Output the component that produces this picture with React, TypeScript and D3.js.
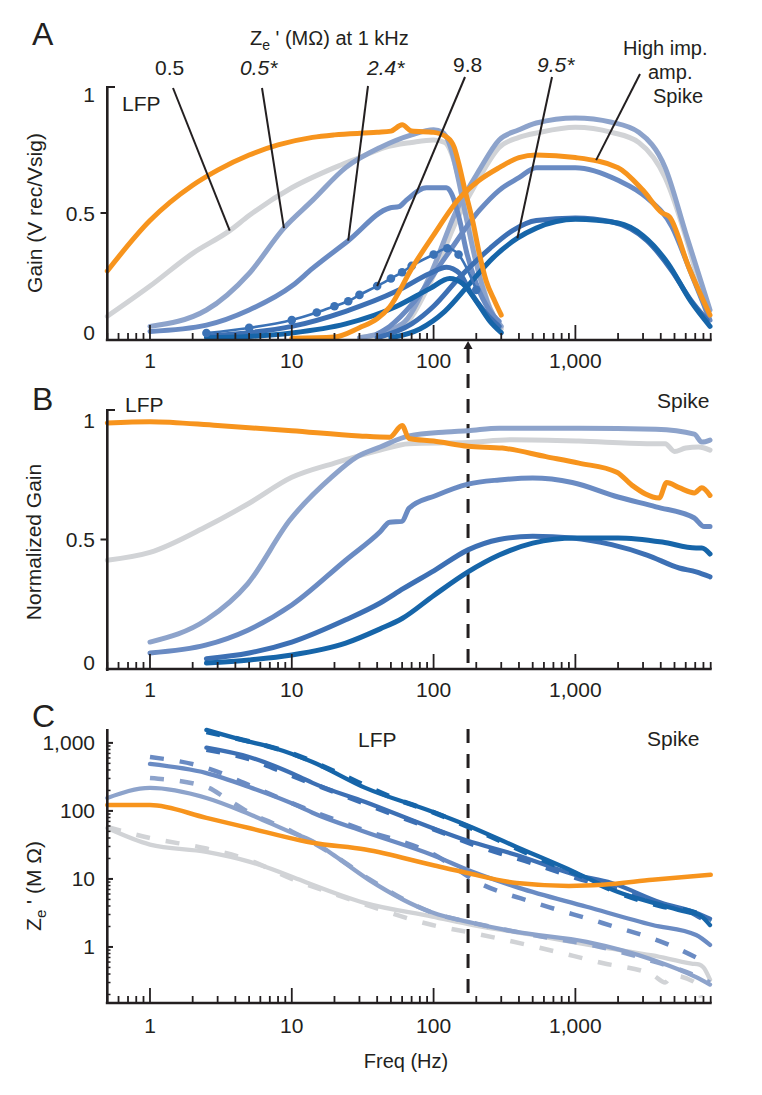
import React from "react";
import * as d3 from "d3";

type P = [number, number];

// ---------- Panel A : Gain (Vrec/Vsig) ----------
const aLfpOrange: P[] = [[0.5,0.27],[1,0.47],[2,0.61],[3,0.67],[5,0.73],[8,0.77],[14,0.8],[20,0.81],[40,0.82],[50,0.825],[60,0.85],[70,0.825],[100,0.82],[125,0.8],[140,0.76],[150,0.7],[165,0.6],[190,0.46],[210,0.34],[235,0.23],[270,0.15],[300,0.095]];
const aLfpGray: P[] = [[0.5,0.09],[1,0.21],[2,0.34],[3.65,0.43],[5,0.49],[10,0.6],[20,0.68],[30,0.72],[45,0.76],[70,0.78],[100,0.79],[120,0.78],[135,0.73],[150,0.64],[170,0.5],[200,0.32],[240,0.15],[300,0.04]];
const aLfpLight: P[] = [[1,0.05],[2.5,0.115],[5,0.26],[8.8,0.44],[14,0.55],[24,0.68],[42,0.76],[70,0.81],[100,0.83],[116,0.82],[135,0.74],[150,0.63],[170,0.48],[200,0.3],[250,0.12],[300,0.05]];
const aLfpMid: P[] = [[1,0.03],[2.5,0.055],[5,0.115],[10,0.21],[14,0.28],[25,0.39],[49,0.52],[57,0.525],[64,0.55],[89,0.6],[123,0.6],[133,0.58],[153,0.47],[170,0.35],[200,0.22],[247,0.115],[290,0.07]];
const aLfpDots: P[] = [[2.5,0.024],[5,0.044],[10,0.075],[15,0.105],[20,0.13],[25,0.15],[30,0.175],[40,0.21],[50,0.24],[60,0.265],[70,0.29],[100,0.335],[125,0.36],[150,0.335],[200,0.195]];
const aLfpDark1: P[] = [[2.5,0.012],[5,0.025],[10,0.05],[24,0.11],[55,0.19],[94,0.26],[123,0.285],[153,0.26],[180,0.19],[236,0.1],[290,0.05]];
const aLfpDark2: P[] = [[2.5,0.005],[5,0.01],[10,0.024],[24,0.06],[55,0.13],[94,0.2],[130,0.24],[160,0.22],[200,0.15],[250,0.07],[300,0.025]];
const aSpkLight: P[] = [[30,0.005],[60,0.06],[94,0.25],[145,0.51],[210,0.67],[290,0.79],[400,0.83],[530,0.857],[1000,0.877],[1800,0.86],[2800,0.82],[4300,0.68],[6000,0.42],[8900,0.115]];
const aSpkGray: P[] = [[30,0.005],[60,0.05],[94,0.22],[145,0.47],[210,0.64],[290,0.76],[400,0.8],[560,0.82],[1000,0.84],[1800,0.82],[2800,0.78],[4300,0.64],[6300,0.365],[8500,0.09]];
const aSpkOrange: P[] = [[10,0.003],[20,0.008],[30,0.045],[40,0.08],[49,0.127],[71,0.285],[98,0.405],[153,0.56],[210,0.63],[290,0.68],[400,0.72],[530,0.73],[1000,0.72],[2000,0.68],[3000,0.59],[4100,0.5],[4600,0.485],[6300,0.285],[8900,0.095]];
const aSpkMid: P[] = [[40,0.02],[49,0.05],[71,0.14],[123,0.33],[210,0.51],[290,0.59],[400,0.64],[530,0.68],[1000,0.68],[2000,0.63],[3200,0.56],[4800,0.445],[6300,0.285],[8900,0.075]];
const aSpkDark1: P[] = [[40,0.005],[70,0.06],[100,0.13],[150,0.24],[250,0.36],[360,0.43],[530,0.47],[1000,0.48],[1800,0.465],[3200,0.39],[4800,0.27],[6500,0.155],[8500,0.075]];
const aSpkDark2: P[] = [[50,0.005],[80,0.04],[120,0.11],[180,0.22],[260,0.32],[390,0.4],[530,0.44],[1000,0.475],[2000,0.46],[3000,0.41],[4500,0.3],[6500,0.15],[8900,0.05]];

// ---------- Panel B : Normalized gain ----------
const bOrange: P[] = [[0.5,0.95],[1,0.955],[3,0.94],[10,0.92],[30,0.9],[49,0.895],[60,0.94],[67,0.89],[100,0.88],[175,0.86],[305,0.853],[620,0.82],[1060,0.795],[1960,0.76],[2500,0.71],[3900,0.66],[4400,0.72],[5400,0.7],[6900,0.68],[7800,0.7],[8900,0.67]];
const bGray: P[] = [[0.5,0.42],[1,0.45],[2.5,0.55],[5,0.64],[10,0.74],[20,0.795],[42,0.845],[67,0.87],[175,0.875],[360,0.885],[1060,0.88],[3200,0.87],[4300,0.87],[5000,0.84],[6000,0.853],[7400,0.857],[8900,0.845]];
const bLight: P[] = [[1,0.104],[2.5,0.19],[4.9,0.33],[9.7,0.575],[19,0.74],[29,0.82],[42,0.857],[67,0.9],[123,0.915],[175,0.92],[290,0.93],[1060,0.93],[3700,0.926],[6900,0.907],[7800,0.876],[8900,0.884]];
const bMid: P[] = [[1,0.062],[2.5,0.093],[4.9,0.15],[10,0.247],[24,0.42],[42,0.53],[49,0.567],[60,0.57],[67,0.62],[104,0.67],[175,0.714],[290,0.73],[500,0.737],[950,0.72],[2000,0.664],[3700,0.626],[6900,0.583],[8100,0.55],[8900,0.55]];
const bDark1: P[] = [[2.5,0.04],[5,0.062],[10,0.104],[24,0.19],[42,0.255],[61,0.31],[101,0.38],[175,0.46],[290,0.5],[500,0.513],[950,0.506],[1800,0.48],[3200,0.44],[5400,0.39],[7100,0.375],[8900,0.356]];
const bDark2: P[] = [[2.5,0.023],[5,0.035],[10,0.054],[24,0.1],[42,0.155],[60,0.195],[101,0.285],[175,0.375],[290,0.44],[500,0.486],[1000,0.506],[2000,0.506],[4100,0.49],[7100,0.467],[7800,0.467],[8900,0.444]];

// ---------- Panel C : Ze' (MOhm) ----------
const cDark2Solid: P[] = [[2.5,1550],[4.5,1100],[7.4,850],[14,525],[33,218],[98,97],[170,62],[385,29.5],[1000,12.5],[2000,6.4],[4100,4.1],[6000,3.3],[7400,3.0],[8900,2.1]];
const cDark2Dash: P[] = [[2.5,1450],[5,1050],[10,700],[20,380],[50,160],[100,95],[200,52],[500,22],[1000,12],[2000,6.3],[4000,4.0],[7000,3.2],[8900,2.3]];
const cDark1Solid: P[] = [[2.5,850],[5,620],[11.4,316],[14,258],[33,135],[98,56],[170,37],[385,22.5],[1000,11.5],[1800,8.7],[4000,4.5],[7000,3.2],[8900,2.6]];
const cDark1Dash: P[] = [[2.5,800],[5,580],[10,330],[20,190],[50,92],[100,54],[200,31],[500,17],[1000,10.5],[2000,7],[4000,4.3],[7000,3],[8900,2.2]];
const cMidSolid: P[] = [[1,490],[2.5,360],[5,225],[11.4,115],[14,94],[33,49],[98,22.5],[190,12.6],[400,7.4],[1200,3.9],[3500,2.1],[7100,1.5],[8900,1.07]];
const cMidDash: P[] = [[1,620],[2.5,430],[5,240],[10,130],[30,55],[100,23],[210,8.7],[530,4.4],[1550,2.25],[4600,1.07],[8500,0.58]];
const cLightSolid: P[] = [[0.5,155],[1,218],[2.5,155],[5,90],[10,48],[14,36],[20,22],[35,9.7],[98,3.2],[190,2.25],[385,1.66],[1200,1.19],[3500,0.65],[7100,0.36],[8900,0.28]];
const cLightDash: P[] = [[1,305],[2.5,225],[3.5,150],[5,95],[10,50],[20,22],[35,10],[98,3.2],[200,2.2],[500,1.5],[1500,1.0],[3500,0.62],[7000,0.38],[8900,0.3]];
const cGraySolid: P[] = [[0.5,56],[1,32],[2.5,25],[5,18],[11.4,9.7],[14,8.2],[33,4.4],[98,2.8],[190,2.1],[500,1.5],[1500,1.0],[3500,0.75],[6600,0.57],[7500,0.55],[8000,0.5],[8900,0.33]];
const cGrayDash: P[] = [[0.5,58],[1,40],[2.5,28],[5,19],[10,10],[20,6],[33,4.2],[98,2.1],[190,1.6],[530,1.0],[1550,0.58],[3500,0.39],[4300,0.3],[4800,0.38],[7000,0.3],[7700,0.18]];
const cOrange: P[] = [[0.5,122],[1,122],[2.5,79],[5,56],[11.4,37],[14,34],[33,27],[98,16],[170,12.3],[385,8.7],[900,7.9],[1550,8.2],[3500,9.7],[9000,11.5]];

// ---------- Axes ----------
const xMajor = [1, 10, 100, 1000];
const xMajorLabels = ["1", "10", "100", "1,000"];
const xDomain: [number, number] = [0.5, 9000];
const cutoffHz = 175;
const linYTicks = [1, 0.5, 0];
const linYLabels = ["1", "0.5", "0"];
const cYTicks = [1, 10, 100, 1000];
const cYLabels = ["1", "10", "100", "1,000"];

const ORANGE = "#F7941D";
const GRAY = "#D1D3D6";
const LIGHT = "#8DA3CB";
const MID = "#6A8BC3";
const DARK1 = "#3D70B4";
const DARK2 = "#1665A9";
const DOTC = "#3B72B6";
const INK = "#231F20";
const FONT = "'Liberation Sans', Arial, Helvetica, sans-serif";

export default function App() {
  const x = d3.scaleLog().domain(xDomain).range([107.3, 710.7]);
  const yA = d3.scaleLinear().domain([0, 1]).range([339, 87]);
  const yB = d3.scaleLinear().domain([0, 1]).range([669, 410]);
  const yC = d3.scaleLog().domain([0.15, 1600]).range([1003, 729]);

  const mk = (ys: (v: number) => number) =>
    d3.line<P>().x((d) => x(d[0])).y((d) => ys(d[1])).curve(d3.curveMonotoneX);
  const lA = mk(yA), lB = mk(yB), lC = mk(yC);

  const xMinor: number[] = [];
  [0.1, 1, 10, 100, 1000].forEach((dec) => {
    d3.range(2, 10).forEach((m) => {
      const v = dec * m;
      if (v >= 0.5 && v <= 9000) xMinor.push(v);
    });
  });
  const cMinor: number[] = [];
  [0.1, 1, 10, 100, 1000].forEach((dec) => {
    d3.range(2, 10).forEach((m) => {
      const v = dec * m;
      if (v >= 0.15 && v <= 1600) cMinor.push(v);
    });
  });

  const xAxis = (y0: number, labelY: number, key: string) => (
    <g key={key}>
      <line x1={x(0.5) - 1.5} x2={x(9000) + 1} y1={y0} y2={y0} stroke={INK} strokeWidth={2.6} />
      {xMinor.map((v, i) => (
        <line key={"m" + i} x1={x(v)} x2={x(v)} y1={y0} y2={y0 - 7} stroke={INK} strokeWidth={1.8} />
      ))}
      {xMajor.map((v, i) => (
        <line key={"M" + i} x1={x(v)} x2={x(v)} y1={y0} y2={y0 - 15} stroke={INK} strokeWidth={1.8} />
      ))}
      {xMajor.map((v, i) => (
        <text key={"t" + i} x={x(v)} y={labelY} textAnchor="middle" fontSize={21} fontFamily={FONT} fill={INK}>
          {xMajorLabels[i]}
        </text>
      ))}
    </g>
  );

  const linYAxis = (ys: (v: number) => number, labelYs: number[], key: string) => (
    <g key={key}>
      <line x1={107.3} x2={107.3} y1={ys(1) - 1} y2={ys(0) + 2} stroke={INK} strokeWidth={2.6} />
      <line x1={107.3} x2={115} y1={ys(1)} y2={ys(1)} stroke={INK} strokeWidth={2} />
      <line x1={100.5} x2={107.3} y1={ys(0.5)} y2={ys(0.5)} stroke={INK} strokeWidth={2} />
      {linYTicks.map((t, i) => (
        <text key={i} x={95} y={labelYs[i]} textAnchor="end" fontSize={21} fontFamily={FONT} fill={INK}>
          {linYLabels[i]}
        </text>
      ))}
    </g>
  );

  const path = (d: string | null, color: string, w = 5, dash?: string, k?: string) => (
    <path key={k} d={d || ""} fill="none" stroke={color} strokeWidth={w} strokeDasharray={dash}
      strokeLinejoin="round" strokeLinecap={dash ? "butt" : "round"} />
  );

  const txt = (s: string, tx: number, ty: number, size = 21, extra: any = {}) => (
    <text x={tx} y={ty} fontSize={size} fontFamily={FONT} fill={INK} {...extra}>{s}</text>
  );

  const leader = (x1: number, y1: number, f: number, v: number) => (
    <line x1={x1} y1={y1} x2={x(f)} y2={yA(v)} stroke={INK} strokeWidth={2} />
  );

  const xc = x(cutoffHz);

  return (
    <svg width={762} height={1095} viewBox="0 0 762 1095"
      style={{ position: "absolute", left: 0, top: 0, background: "#fff", display: "block" }}>
      <rect x={0} y={0} width={762} height={1095} fill="#fff" />

      {/* ---------------- Panel A ---------------- */}
      {txt("A", 32, 45, 32)}
      <text x={250} y={45} fontSize={20} fontFamily={FONT} fill={INK}>
        Z<tspan fontSize={14} dy={5}>e</tspan><tspan dy={-5}> ' (MΩ) at 1 kHz</tspan>
      </text>
      {txt("0.5", 155, 75, 21)}
      {txt("0.5*", 240, 75, 21, { fontStyle: "italic" })}
      {txt("2.4*", 367, 75, 21, { fontStyle: "italic" })}
      {txt("9.8", 453, 72, 21)}
      {txt("9.5*", 537, 72, 21, { fontStyle: "italic" })}
      {txt("High imp.", 623, 55, 20)}
      {txt("amp.", 648, 79, 20)}
      {txt("Spike", 653, 103, 20)}
      {txt("LFP", 122, 111, 21)}

      {path(lA(aLfpGray), GRAY)}
      {path(lA(aSpkGray), GRAY)}
      {path(lA(aLfpLight), LIGHT)}
      {path(lA(aSpkLight), LIGHT)}
      {path(lA(aLfpMid), MID)}
      {path(lA(aSpkMid), MID)}
      {path(lA(aLfpDark1), DARK1)}
      {path(lA(aSpkDark1), DARK1)}
      {path(lA(aLfpDark2), DARK2)}
      {path(lA(aSpkDark2), DARK2)}
      {path(lA(aLfpDots), DOTC, 2.6)}
      {aLfpDots.map((d, i) => (
        <circle key={"dot" + i} cx={x(d[0])} cy={yA(d[1])} r={4.3} fill={DOTC} />
      ))}
      {path(lA(aLfpOrange), ORANGE)}
      {path(lA(aSpkOrange), ORANGE)}

      {leader(173, 88, 3.65, 0.43)}
      {leader(262, 88, 8.8, 0.44)}
      {leader(368, 86, 25, 0.39)}
      {leader(465, 77, 40, 0.21)}
      {leader(552, 77, 390, 0.4)}
      {leader(640, 74, 1400, 0.71)}

      {linYAxis(yA, [102, 221, 340], "ya")}
      {xAxis(340, 368, "xa")}
      <text transform="translate(42,213) rotate(-90)" textAnchor="middle" fontSize={21} fontFamily={FONT} fill={INK}>
        Gain (V rec/Vsig)
      </text>

      {/* cutoff marker */}
      <path d={`M${xc},${341} l-4.5,8 l9,0 z`} fill={INK} />
      <line x1={xc} x2={xc} y1={349} y2={669} stroke={INK} strokeWidth={3} strokeDasharray="14 11" />
      <line x1={xc} x2={xc} y1={729} y2={1003} stroke={INK} strokeWidth={3} strokeDasharray="14 11" />

      {/* ---------------- Panel B ---------------- */}
      {txt("B", 32, 410, 32)}
      {txt("LFP", 125, 412, 21)}
      {txt("Spike", 657, 408, 21)}
      {path(lB(bGray), GRAY)}
      {path(lB(bLight), LIGHT)}
      {path(lB(bMid), MID)}
      {path(lB(bDark1), DARK1)}
      {path(lB(bDark2), DARK2)}
      {path(lB(bOrange), ORANGE)}
      {linYAxis(yB, [428, 547, 670], "yb")}
      {xAxis(669, 697, "xb")}
      <text transform="translate(41,542) rotate(-90)" textAnchor="middle" fontSize={21} fontFamily={FONT} fill={INK}>
        Normalized Gain
      </text>

      {/* ---------------- Panel C ---------------- */}
      {txt("C", 32, 727, 32)}
      {txt("LFP", 358, 747, 21)}
      {txt("Spike", 647, 746, 21)}
      {path(lC(cGrayDash), GRAY, 4.5, "14 16")}
      {path(lC(cGraySolid), GRAY, 4.3)}
      {path(lC(cLightDash), LIGHT, 4.5, "14 16")}
      {path(lC(cLightSolid), LIGHT, 4.3)}
      {path(lC(cMidDash), MID, 4.5, "14 16")}
      {path(lC(cMidSolid), MID, 4.3)}
      {path(lC(cDark1Dash), DARK1, 5, "14 16")}
      {path(lC(cDark1Solid), DARK1, 4.3)}
      {path(lC(cDark2Dash), DARK2, 5, "14 16")}
      {path(lC(cDark2Solid), DARK2, 4.3)}
      {path(lC(cOrange), ORANGE, 4.5)}

      <g>
        <line x1={107.3} x2={107.3} y1={729} y2={1004} stroke={INK} strokeWidth={2.6} />
        {cMinor.map((v, i) => (
          <line key={i} x1={107.3} x2={110.5} y1={yC(v)} y2={yC(v)} stroke={INK} strokeWidth={1.5} />
        ))}
        {cYTicks.map((v, i) => (
          <line key={"M" + i} x1={107.3} x2={113} y1={yC(v)} y2={yC(v)} stroke={INK} strokeWidth={2} />
        ))}
        {cYTicks.map((v, i) => (
          <text key={"t" + i} x={95} y={yC(v) + 7.5} textAnchor="end" fontSize={21} fontFamily={FONT} fill={INK}>
            {cYLabels[i]}
          </text>
        ))}
      </g>
      {xAxis(1003, 1033, "xc")}
      <text transform="translate(41,886) rotate(-90)" textAnchor="middle" fontSize={21} fontFamily={FONT} fill={INK}>
        Z<tspan fontSize={15} dy={5}>e</tspan><tspan dy={-5}> ' (M Ω)</tspan>
      </text>
      <text x={406} y={1068} textAnchor="middle" fontSize={20} fontFamily={FONT} fill={INK}>Freq (Hz)</text>
    </svg>
  );
}
